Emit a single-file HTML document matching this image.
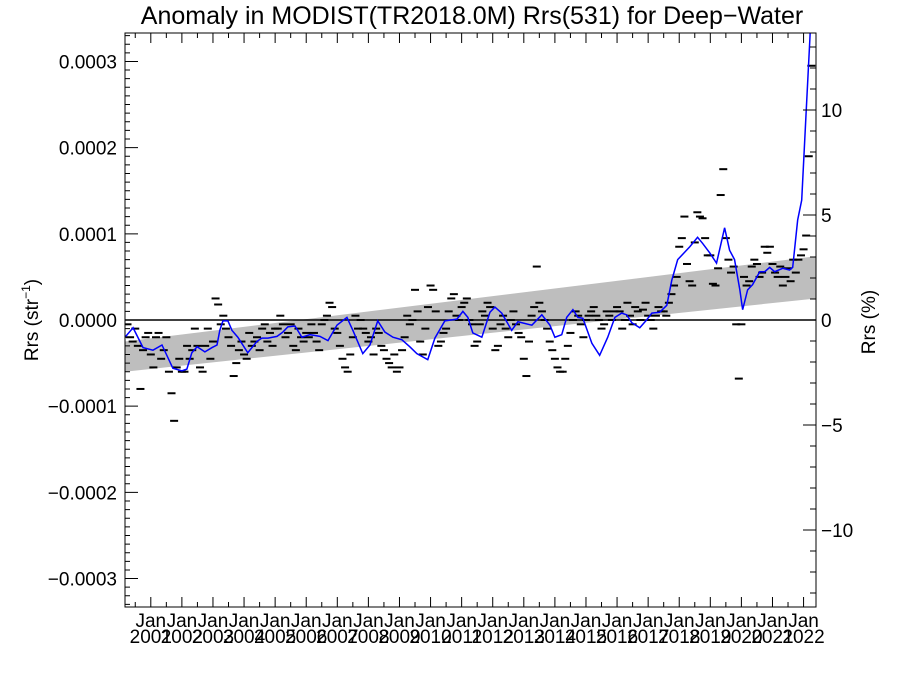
<!DOCTYPE html>
<html><head><meta charset="utf-8"><style>
body{margin:0;background:#fff}
svg{display:block;font-family:"Liberation Sans",sans-serif}
</style></head><body>
<svg id="chart" width="900" height="675" viewBox="0 0 900 675" xmlns="http://www.w3.org/2000/svg">
<defs><clipPath id="clip"><rect x="125" y="33" width="691" height="574"/></clipPath></defs>
<rect width="900" height="675" fill="#fff"/>
<text x="472" y="24" font-size="25" text-anchor="middle">Anomaly in MODIST(TR2018.0M) Rrs(531) for Deep−Water</text>
<g id="plot" clip-path="url(#clip)"></g>
<g id="axes"></g>
<text transform="translate(38,320) rotate(-90)" font-size="19" text-anchor="middle">Rrs (str<tspan dy="-8" font-size="12">−1</tspan><tspan dy="8">)</tspan></text>
<text transform="translate(875,322) rotate(-90)" font-size="19" text-anchor="middle">Rrs (%)</text>
</svg>
<script>
// smoothed line (decimal year, value in 1e-4 sr^-1)
const lineYears=[2000.17,2000.43,2000.75,2001.07,2001.36,2001.71,2002.0,2002.16,2002.32,2002.49,2002.74,2002.97,2003.13,2003.22,2003.32,2003.48,2003.61,2003.8,2004.12,2004.41,2004.57,2004.77,2005.06,2005.25,2005.41,2005.64,2005.86,2006.12,2006.44,2006.7,2006.99,2007.31,2007.5,2007.82,2008.05,2008.3,2008.53,2008.79,2009.08,2009.33,2009.56,2009.91,2010.14,2010.46,2010.85,2011.04,2011.2,2011.36,2011.65,2011.91,2012.07,2012.29,2012.61,2012.81,2013.26,2013.58,2013.84,2014.0,2014.22,2014.38,2014.58,2014.74,2014.9,2015.19,2015.44,2015.7,2015.93,2016.15,2016.31,2016.47,2016.73,2016.95,2017.12,2017.37,2017.6,2017.76,2017.95,2018.34,2018.59,2018.75,2018.98,2019.2,2019.46,2019.62,2019.78,2019.95,2020.04,2020.2,2020.36,2020.59,2020.75,2020.91,2021.07,2021.33,2021.55,2021.65,2021.81,2021.94,2022.07,2022.2,2022.26];
const lineVals=[-0.20,-0.09,-0.32,-0.35,-0.29,-0.56,-0.59,-0.57,-0.38,-0.31,-0.37,-0.32,-0.29,-0.12,-0.01,-0.01,-0.12,-0.20,-0.38,-0.25,-0.21,-0.21,-0.19,-0.14,-0.08,-0.07,-0.20,-0.17,-0.19,-0.24,-0.06,0.03,-0.12,-0.39,-0.29,-0.01,-0.14,-0.20,-0.23,-0.31,-0.39,-0.46,-0.21,-0.01,0.01,0.10,0.03,-0.15,-0.20,0.09,0.15,0.08,-0.12,-0.02,-0.06,0.06,-0.06,-0.20,-0.17,0.03,0.12,0.03,0.02,-0.27,-0.41,-0.20,0.03,0.08,0.06,-0.03,-0.09,0.0,0.08,0.09,0.17,0.46,0.70,0.85,0.96,0.89,0.78,0.66,1.07,0.81,0.70,0.35,0.12,0.35,0.41,0.56,0.56,0.61,0.56,0.60,0.58,0.61,1.16,1.39,2.32,3.24,3.7];
// monthly anomalies starting 2000.25
const monthStart=2000.25;
const monthVals=[-0.05,-0.2,-0.25,-0.1,-0.3,-0.8,-0.35,-0.2,-0.15,-0.4,
-0.55,-0.2,-0.15,-0.45,-0.35,-0.2,-0.6,-0.85,-1.17,-0.55,-0.45,-0.6,
-0.6,-0.3,-0.45,-0.35,-0.1,-0.3,-0.55,-0.6,-0.3,-0.1,-0.45,-0.25,
0.25,0.18,-0.05,0.05,-0.1,-0.2,-0.3,-0.65,-0.5,-0.35,-0.25,-0.4,
-0.45,-0.15,-0.3,-0.25,-0.2,-0.35,-0.1,-0.05,-0.25,-0.15,-0.3,-0.1,
-0.1,0.05,-0.05,-0.2,-0.15,-0.05,-0.3,-0.35,-0.1,-0.2,-0.25,-0.15,
-0.2,-0.05,-0.15,-0.25,-0.35,-0.05,0.0,0.05,0.2,0.15,-0.1,-0.15,
-0.3,-0.45,-0.55,-0.6,-0.4,-0.2,0.05,-0.1,0.0,-0.1,-0.15,-0.25,
-0.2,-0.4,-0.1,-0.15,-0.3,-0.35,-0.45,-0.5,-0.55,-0.4,-0.6,-0.55,
-0.35,-0.2,0.05,-0.05,0.0,0.35,0.1,-0.25,-0.4,-0.1,0.15,0.4,
0.35,0.1,-0.3,-0.25,-0.15,-0.1,0.1,0.25,0.3,0.05,0.0,0.15,
0.2,0.25,0.0,-0.05,-0.3,-0.25,-0.05,0.1,0.05,0.2,0.15,-0.1,
-0.35,-0.3,-0.05,0.05,-0.1,-0.2,0.0,0.1,-0.05,-0.15,-0.2,-0.45,
-0.65,-0.25,0.05,0.15,0.62,0.2,0.1,0.0,-0.1,-0.25,-0.35,-0.45,
-0.55,-0.6,-0.6,-0.45,-0.3,-0.15,0.0,0.1,0.05,-0.05,-0.2,0.0,
0.05,0.1,0.15,0.05,0.0,-0.1,-0.05,0.1,0.05,0.0,0.1,0.15,
0.1,-0.1,0.0,0.2,0.05,-0.05,0.15,0.1,0.0,0.12,0.2,0.05,
0.0,-0.1,0.05,0.15,0.1,
0.1,0.05,0.2,0.3,0.4,0.5,0.85,0.95,1.2,0.65,0.45,0.4,
0.9,1.25,1.2,1.18,0.95,0.75,0.75,0.42,0.4,0.6,1.45,1.75,
0.95,0.7,0.55,0.62,-0.05,-0.68,-0.05,0.5,0.4,0.45,0.62,0.7,
0.65,0.5,0.55,0.85,0.78,0.85,0.65,0.55,0.5,0.62,0.4,0.5,
0.6,0.45,0.7,0.55,
0.7,0.75,0.82,0.98,1.9,2.95];
// linear trend band (1e-4) at start and end years
const bandYears=[2000.17,2022.4];
const bandUpper=[-0.25,0.74];
const bandLower=[-0.60,0.25];
const yTicks=[-0.0003,-0.0002,-0.0001,0.0000,0.0001,0.0002,0.0003];
const y2Ticks=[-10,-5,0,5,10];
const xYears=[2001,2002,2003,2004,2005,2006,2007,2008,2009,2010,2011,2012,2013,2014,2015,2016,2017,2018,2019,2020,2021,2022];

const L=125,R=816,T=33,B=607,X0=2000.17,X1=2022.4,V=3.33;
const xs=y=>L+(y-X0)/(X1-X0)*(R-L);
const ys=v=>320-v/V*(320-T);
const ys2=p=>320-p*21;
const NS='http://www.w3.org/2000/svg';
function mk(tag,attrs,parent){const e=document.createElementNS(NS,tag);for(const k in attrs)e.setAttribute(k,attrs[k]);parent.appendChild(e);return e;}
const plot=document.getElementById('plot'),axes=document.getElementById('axes');

const band=mk('polygon',{points:`${xs(bandYears[0])},${ys(bandUpper[0])} ${xs(bandYears[1])},${ys(bandUpper[1])} ${xs(bandYears[1])},${ys(bandLower[1])} ${xs(bandYears[0])},${ys(bandLower[0])}`,fill:'#bebebe'},plot);


const zl=mk('line',{x1:L,x2:R,y1:ys(0),y2:ys(0),stroke:'#000','stroke-width':1.5},plot);


monthVals.forEach((v,i)=>{const x=xs(monthStart+i/12);
const d=mk('line',{x1:x-4,x2:x+4,y1:ys(v),y2:ys(v),stroke:'#000','stroke-width':2},plot);

});
const ln=mk('polyline',{points:lineYears.map((y,i)=>xs(y)+','+ys(lineVals[i])).join(' '),fill:'none',stroke:'#0000ff','stroke-width':1.5},plot);



const frame=mk('rect',{x:L,y:T,width:R-L,height:B-T,fill:'none',stroke:'#000','stroke-width':1},axes);


let p='';
for(let k=-33;k<=33;k++){const y=ys(k/10);const len=(k%10===0)?13:5;p+=`M${L},${y}h${len}`;}
for(let k=-13;k<=13;k++){const y=ys2(k);const len=(k%5===0)?13:6;p+=`M${R},${y}h${-len}`;}
for(let h=0;h<=45;h++){const yr=2000.5+h*0.5;const x=xs(yr);if(x<L||x>R)continue;const len=(h%2===1)?10:5;p+=`M${x},${B}v${-len}M${x},${T}v${len}`;}
const tk=mk('path',{d:p,stroke:'#000','stroke-width':1,fill:'none'},axes);


yTicks.forEach(v=>{const t=mk('text',{x:117,y:ys(v*1e4)+7,'font-size':19,'text-anchor':'end'},axes);t.textContent=v===0?'0.0000':(v<0?'−':'')+Math.abs(v).toFixed(4);

});
y2Ticks.forEach(v=>{const t=mk('text',{x:821,y:ys2(v)+7,'font-size':19},axes);t.textContent=(v<0?'−':'')+Math.abs(v);

});
xYears.forEach(yr=>{const x=xs(yr);
const a=mk('text',{x:x,y:627,'font-size':19,'text-anchor':'middle'},axes);a.textContent='Jan';


const b=mk('text',{x:x,y:643,'font-size':19,'text-anchor':'middle'},axes);b.textContent=yr;

});
</script>
</body></html>
